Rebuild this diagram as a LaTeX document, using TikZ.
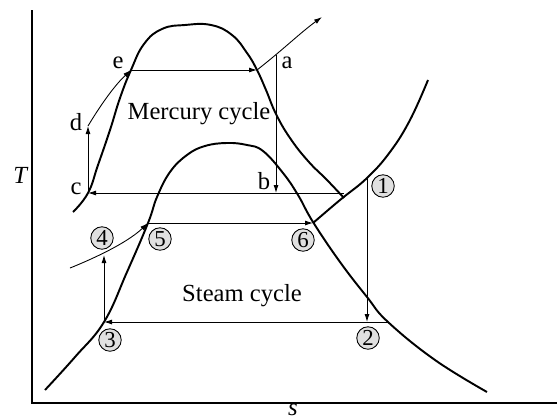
\documentclass[tikz,border=0pt]{standalone}
\usepackage{fontspec}
\setmainfont{Liberation Serif}
\usetikzlibrary{arrows.meta,positioning}
\tikzset{
  dome/.style={line width=1.1pt,black},
  proc/.style={-{Latex[length=1.6mm,width=1mm]},line width=0.5pt,black},
  axis/.style={line width=0.6pt,black},
  pt-lbl/.style={font=\fontsize{14}{16}\selectfont,inner sep=0pt},
  pt-num/.style={draw,circle,fill=black!12,minimum size=4.5mm,inner sep=0pt,line width=0.5pt,font=\fontsize{13}{14}\selectfont},
  cyc-lbl/.style={font=\fontsize{14}{16}\selectfont,inner sep=0pt},
}

\begin{document}
\begin{tikzpicture}[x=0.02cm,y=-0.02cm]
  \useasboundingbox (0,0) rectangle (557,419);

  % axes
  \coordinate (ytop) at (32,10);
  \coordinate (orig) at (32,403);
  \coordinate (xend) at (557,403);
  \draw[axis] (ytop) -- (orig) -- (xend);
  \node[pt-lbl] (tlbl) at (21,175) {\textit{T}};
  \node[pt-lbl] (slbl) at (293,410) {\textit{s}};

  % saturation domes
  \draw[dome] plot[smooth,tension=0.75] coordinates {(73,212) (88,193) (98,165) (110,130) (120,98) (131,70)
    (144,44) (162,29) (185,25) (211,25) (232,35) (247,53) (257,70) (266,90) (276,114) (290,138)
    (308,161) (327,180) (344,198)};
  \draw[dome] plot[smooth,tension=0.7] coordinates {(45,390) (75,357) (104,322) (127,272) (148,223)
    (157,197) (170,172) (187,155) (205,146) (227,143) (247,145) (263,151) (283,173) (298,195)
    (313,222) (340,262) (367,297) (388,322) (435,360) (487,392)};
  \draw[dome] plot[smooth,tension=0.7] coordinates {(313,223) (340,200) (367,178) (390,152)
    (410,120) (428,80)};

  % MERCURY CYCLE
  \coordinate (c)  at (88,193);
  \coordinate (d)  at (88,126);
  \coordinate (e)  at (131,70);
  \coordinate (g)  at (257,70);
  \coordinate (a)  at (276,55);
  \coordinate (b)  at (276,193);
  \coordinate (h)  at (344,193);
  \coordinate (hg) at (322,17);
  \draw[proc] (c) -- (d);
  \draw[proc] (d) .. controls (100,106) and (114,86) .. (e);
  \draw[proc] (e) -- (g);
  \draw[proc] (g) .. controls (285,48) and (300,33) .. (hg);
  \draw[proc] (a) -- (b);
  \draw[proc] (h) -- (c);

  \node[pt-lbl] (le) at (118,63)  {e};
  \node[pt-lbl] (ld) at (76,122)  {d};
  \node[pt-lbl] (lc) at (76,189)  {c};
  \node[pt-lbl] (la) at (287,63)  {a};
  \node[pt-lbl] (lb) at (264,181) {b};
  \node[cyc-lbl] (hgcyc) at (199,114) {Mercury cycle};

  % STEAM CYCLE
  \coordinate (s1)  at (367,178);
  \coordinate (s2)  at (367,322);
  \coordinate (s2r) at (388,322);
  \coordinate (s3)  at (104,322);
  \coordinate (s4)  at (104,255);
  \coordinate (s5)  at (148,223);
  \coordinate (s6)  at (313,223);
  \coordinate (fw)  at (70,268);
  \draw[proc] (s3) -- (s4);
  \draw[proc] (fw) .. controls (85,262) and (125,245) .. (s5);
  \draw[proc] (s5) -- (s6);
  \draw[proc] (s1) -- (s2);
  \draw[proc] (s2r) -- (s3);

  \node[pt-num] (n1) at (383,186) {1};
  \node[pt-num] (n2) at (368,338) {2};
  \node[pt-num] (n3) at (110,340) {3};
  \node[pt-num] (n4) at (102,238) {4};
  \node[pt-num] (n5) at (160,239) {5};
  \node[pt-num] (n6) at (303,240) {6};
  \node[cyc-lbl] (stcyc) at (242,296) {Steam cycle};

\end{tikzpicture}
\end{document}
